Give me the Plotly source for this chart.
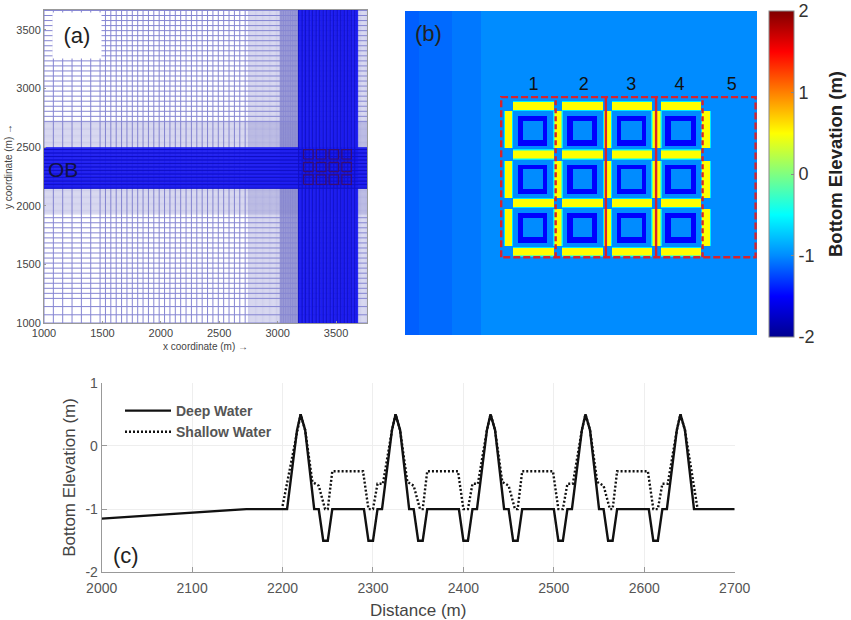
import numpy as np
import plotly.graph_objects as go

W, H = 851, 620
FONT = "Liberation Sans"

# (a) mesh: zones of constant line spacing
x_zone_start = [1000, 1480, 2750, 3690, 3020, 3180, 3180]
x_zone_end = [1480, 2750, 3020, 3765, 3180, 3690, 3690]
x_zone_step = [80, 46, 10, 10, 6, 5, 30]
x_zone_color = ["#8585d2", "#8585d2", "#8080cc", "#8080cc", "#6060c0", "#1a1af0", "#1010c4"]
x_zone_width = [1, 1, 0.4, 0.4, 0.6, 1, 1]
x_zone_layer = [0, 0, 0, 0, 0, 1, 2]

y_zone_start = [1000, 1210, 2720, 1930, 2500, 2150, 2150]
y_zone_end = [1210, 1930, 3670, 2150, 2720, 2500, 2500]
y_zone_step = [70, 43, 43, 10, 10, 5, 30]
y_zone_color = ["#8585d2", "#8585d2", "#8585d2", "#8080cc", "#8080cc", "#1a1af0", "#1010c4"]
y_zone_width = [1, 1, 1, 0.4, 0.4, 1, 1]
y_zone_layer = [0, 0, 0, 0, 0, 1, 2]

reef_a_x = [3209, 3318, 3427, 3536, 3645]
reef_a_y = [2169, 2277, 2385, 2493]

# (b) bathymetry, metres
shelf_start = [2000, 2028, 2100]
shelf_end = [2028, 2100, 2160]
shelf_level = [-1.16, -1.12, -1.07]
ridge_x = [2220, 2325, 2430, 2535, 2640]
ridge_y = [2181, 2286, 2391, 2496]
h_bar_span = [10, 95]
v_bar_span = [13, 92]
bar_halfwidth = [10.5, 8.5, 7]
bar_level = [-0.6, 0.0, 0.5]
ring_span = [20, 82]
hole_span = [31, 73]
ring_level = -1.5
base_level = -1.0
box_left, box_right, box_bottom, box_top = 2205, 2747, 2168, 2514
divider_x = [2321, 2428, 2535, 2634]
divider_dash = ["5px,3px", "solid", "solid", "5px,3px"]
box_labels = ["1", "2", "3", "4", "5"]
box_label_x = [2274, 2381, 2482, 2585, 2696]

# (c) profiles
deep_x = [2000, 2160, 2205, 2216, 2220, 2225, 2235, 2240, 2245, 2250, 2255, 2290, 2295, 2300, 2305, 2310,
          2321, 2325, 2330, 2340, 2345, 2350, 2355, 2360, 2395, 2400, 2405, 2410, 2415,
          2426, 2430, 2435, 2445, 2450, 2455, 2460, 2465, 2500, 2505, 2510, 2515, 2520,
          2531, 2535, 2540, 2550, 2555, 2560, 2565, 2570, 2605, 2610, 2615, 2620, 2625,
          2636, 2640, 2645, 2655, 2700]
deep_y = [-1.15, -1, -1, 0.25, 0.5, 0.25, -1, -1, -1.5, -1.5, -1, -1, -1.5, -1.5, -1, -1,
          0.25, 0.5, 0.25, -1, -1, -1.5, -1.5, -1, -1, -1.5, -1.5, -1, -1,
          0.25, 0.5, 0.25, -1, -1, -1.5, -1.5, -1, -1, -1.5, -1.5, -1, -1,
          0.25, 0.5, 0.25, -1, -1, -1.5, -1.5, -1, -1, -1.5, -1.5, -1, -1,
          0.25, 0.5, 0.25, -1, -1]
shallow_x = [2200, 2216, 2220, 2225, 2233, 2240, 2247, 2250, 2255, 2289, 2295, 2300, 2305, 2311,
             2321, 2325, 2330, 2338, 2345, 2352, 2355, 2360, 2394, 2400, 2405, 2410, 2416,
             2426, 2430, 2435, 2443, 2450, 2457, 2460, 2465, 2499, 2505, 2510, 2515, 2521,
             2531, 2535, 2540, 2548, 2555, 2562, 2565, 2570, 2604, 2610, 2615, 2620, 2626,
             2636, 2640, 2645, 2659]
shallow_y = [-0.95, 0.25, 0.5, 0.25, -0.57, -0.63, -1, -1, -0.4, -0.4, -1, -1, -0.6, -0.6,
             0.25, 0.5, 0.25, -0.57, -0.63, -1, -1, -0.4, -0.4, -1, -1, -0.6, -0.6,
             0.25, 0.5, 0.25, -0.57, -0.63, -1, -1, -0.4, -0.4, -1, -1, -0.6, -0.6,
             0.25, 0.5, 0.25, -0.57, -0.63, -1, -1, -0.4, -0.4, -1, -1, -0.6, -0.6,
             0.25, 0.5, 0.25, -1]

jet = [[0, "#00008f"], [0.125, "#0000ff"], [0.25, "#008cff"], [0.375, "#00ffff"],
       [0.5, "#80ff80"], [0.625, "#ffff00"], [0.75, "#ff8000"], [0.875, "#ff0000"], [1, "#800000"]]


def fx(px):
    return px / W


def fy(px):
    return 1 - px / H


def mesh_lines(start, end, step):
    return np.arange(start, end, step).tolist()


fig = go.Figure()

# panel (a): the mesh, coarse zones underneath, dense bands over them
for layer in [0, 1, 2]:
    for s, e, d, c, w, n in zip(x_zone_start, x_zone_end, x_zone_step, x_zone_color, x_zone_width, x_zone_layer):
        if n != layer:
            continue
        xs, ys = [], []
        for v in mesh_lines(s, e, d):
            xs += [v, v, None]
            ys += [1000, 3670, None]
        fig.add_trace(go.Scatter(x=xs, y=ys, mode="lines", line=dict(color=c, width=w), hoverinfo="skip",
                                 showlegend=False, xaxis="x", yaxis="y"))
    for s, e, d, c, w, n in zip(y_zone_start, y_zone_end, y_zone_step, y_zone_color, y_zone_width, y_zone_layer):
        if n != layer:
            continue
        xs, ys = [], []
        for v in mesh_lines(s, e, d):
            xs += [1000, 3765, None]
            ys += [v, v, None]
        fig.add_trace(go.Scatter(x=xs, y=ys, mode="lines", line=dict(color=c, width=w), hoverinfo="skip",
                                 showlegend=False, xaxis="x", yaxis="y"))

# reef outlines in the mesh
xs, ys = [], []
for i in range(len(reef_a_x) - 1):
    for j in range(len(reef_a_y) - 1):
        x0, x1 = reef_a_x[i] + 14, reef_a_x[i + 1] - 14
        y0, y1 = reef_a_y[j] + 14, reef_a_y[j + 1] - 14
        xs += [x0, x1, x1, x0, x0, None]
        ys += [y0, y0, y1, y1, y0, None]
fig.add_trace(go.Scatter(x=xs, y=ys, mode="lines", line=dict(color="#3a0f70", width=1.2), hoverinfo="skip",
                         showlegend=False, xaxis="x", yaxis="y"))

# panel (b): bathymetry map
x_cells = np.arange(2001, 2750, 2.0)
y_cells = np.arange(2001, 2700, 2.0)
z = np.full((len(y_cells), len(x_cells)), base_level)


def paint(x0, x1, y0, y1, level):
    xi = np.where((x_cells >= x0) & (x_cells <= x1))[0]
    yi = np.where((y_cells >= y0) & (y_cells <= y1))[0]
    z[np.ix_(yi, xi)] = level


for s, e, level in zip(shelf_start, shelf_end, shelf_level):
    paint(s, e, 2000, 2700, level)
for hw, level in zip(bar_halfwidth, bar_level):
    for rx in ridge_x[:-1]:
        for ry in ridge_y:
            paint(rx + h_bar_span[0], rx + h_bar_span[1], ry - hw, ry + hw, level)
    for rx in ridge_x:
        for ry in ridge_y[:-1]:
            paint(rx - hw, rx + hw, ry + v_bar_span[0], ry + v_bar_span[1], level)
for rx in ridge_x[:-1]:
    for ry in ridge_y[:-1]:
        paint(rx + ring_span[0], rx + ring_span[1], ry + ring_span[0], ry + ring_span[1], ring_level)
        paint(rx + hole_span[0], rx + hole_span[1], ry + hole_span[0], ry + hole_span[1], base_level)

fig.add_trace(go.Heatmap(
    x=x_cells, y=y_cells, z=z, zmin=-2, zmax=2, zsmooth="best", colorscale=jet, xaxis="x2", yaxis="y2",
    hoverinfo="skip",
    colorbar=dict(
        x=fx(769), xanchor="left", xpad=0, y=fy(11), yanchor="top", ypad=0,
        len=326 / H, lenmode="fraction", thickness=25, thicknessmode="pixels",
        outlinecolor="#888888", outlinewidth=1,
        tickvals=[-2, -1, 0, 1, 2], ticktext=["-2", "-1", "0", "1", "2"],
        ticks="inside", ticklen=3, tickcolor="#888888",
        tickfont=dict(family=FONT, size=18, color="#333333"),
    ),
))

RED = "#d8232c"
fig.add_trace(go.Scatter(
    x=[box_left, box_left, box_right, box_right, box_left],
    y=[box_bottom, box_top, box_top, box_bottom, box_bottom],
    mode="lines", line=dict(color=RED, width=2.4, dash="7px,3px"), hoverinfo="skip",
    showlegend=False, xaxis="x2", yaxis="y2"))
for dx, dash in zip(divider_x, divider_dash):
    fig.add_trace(go.Scatter(
        x=[dx, dx], y=[box_bottom, box_top], mode="lines",
        line=dict(color=RED, width=2.4, dash=dash), hoverinfo="skip",
        showlegend=False, xaxis="x2", yaxis="y2"))
fig.add_trace(go.Scatter(
    x=box_label_x, y=[2538] * len(box_label_x), text=box_labels, mode="text",
    textfont=dict(family=FONT, size=18, color="#111111"), hoverinfo="skip",
    showlegend=False, xaxis="x2", yaxis="y2"))

# panel (c): profiles
fig.add_trace(go.Scatter(x=shallow_x, y=shallow_y, mode="lines", name="Shallow Water", legendrank=2,
                         line=dict(color="#111111", width=2.4, dash="2px,2px"), xaxis="x3", yaxis="y3"))
fig.add_trace(go.Scatter(x=deep_x, y=deep_y, mode="lines", name="Deep Water", legendrank=1,
                         line=dict(color="#111111", width=2.4), xaxis="x3", yaxis="y3"))

tick_a = dict(family=FONT, size=11, color="#444444")
tick_c = dict(family=FONT, size=14, color="#555555")
frame = dict(showline=True, linecolor="#999999", linewidth=1, mirror=True, zeroline=False)
label = dict(xref="paper", yref="paper", xanchor="center", yanchor="middle", showarrow=False)

fig.update_layout(
    width=W, height=H, autosize=False,
    margin=dict(l=0, r=0, t=0, b=0, autoexpand=False),
    paper_bgcolor="white", plot_bgcolor="white",
    font=dict(family=FONT, color="#444444"),
    xaxis=dict(domain=[fx(44), fx(367)], range=[1000, 3765], tickvals=[1000, 1500, 2000, 2500, 3000, 3500],
               showgrid=False, ticks="inside", ticklen=2, tickcolor="#999999", tickfont=tick_a,
               title=dict(text="x coordinate (m) →", font=dict(family=FONT, size=10, color="#444444"), standoff=4),
               anchor="y", **frame),
    yaxis=dict(domain=[fy(323), fy(10)], range=[1000, 3670], tickvals=[1000, 1500, 2000, 2500, 3000, 3500],
               showgrid=False, ticks="inside", ticklen=2, tickcolor="#999999", tickfont=tick_a,
               title=dict(text="y coordinate (m) →", font=dict(family=FONT, size=10, color="#444444"), standoff=1),
               anchor="x", **frame),
    xaxis2=dict(domain=[fx(405), fx(757)], range=[2000, 2750], visible=False, anchor="y2"),
    yaxis2=dict(domain=[fy(335), fy(11)], range=[2000, 2700], visible=False, anchor="x2"),
    xaxis3=dict(domain=[fx(101.7), fx(734.7)], range=[2000, 2700], tickvals=list(range(2000, 2701, 100)),
                showgrid=True, gridcolor="#eeeeee", ticks="inside", ticklen=5, tickcolor="#999999", tickfont=tick_c,
                ticklabelstandoff=3,
                title=dict(text="Distance (m)", font=dict(family=FONT, size=17, color="#444444"), standoff=9),
                anchor="y3", showline=True, linecolor="#999999", zeroline=False),
    yaxis3=dict(domain=[fy(572.3), fy(382.7)], range=[-2, 1], tickvals=[-2, -1, 0, 1],
                ticktext=["-2", "-1", "0", "1"],
                showgrid=True, gridcolor="#eeeeee", ticks="inside", ticklen=5, tickcolor="#999999", tickfont=tick_c,
                title=dict(text="Bottom Elevation (m)", font=dict(family=FONT, size=17, color="#444444"), standoff=5),
                anchor="x3", showline=True, linecolor="#999999", zeroline=False),
    legend=dict(x=fx(120), y=fy(395), xanchor="left", yanchor="top", bgcolor="rgba(0,0,0,0)",
                itemwidth=46, font=dict(family=FONT, size=14, color="#555555", weight="bold")),
    annotations=[
        dict(text="(a)", xref="paper", yref="paper", x=fx(52), y=fy(12), xanchor="left", yanchor="top",
             width=46, height=43, bgcolor="white", showarrow=False, font=dict(family=FONT, size=22, color="#222222")),
        dict(text="OB", x=fx(63), y=fy(169), font=dict(family=FONT, size=21, color="#111144"), **label),
        dict(text="(b)", x=fx(428), y=fy(33), font=dict(family=FONT, size=22, color="#222222"), **label),
        dict(text="(c)", x=fx(126), y=fy(555), font=dict(family=FONT, size=22, color="#222222"), **label),
        dict(text="<b>Bottom Elevation (m)</b>", x=fx(835), y=fy(164), textangle=-90,
             font=dict(family=FONT, size=18.5, color="#222222"), **label),
    ],
)

fig.write_html("out.html", config={"displayModeBar": False},
               post_script="document.body.style.margin='0';")
